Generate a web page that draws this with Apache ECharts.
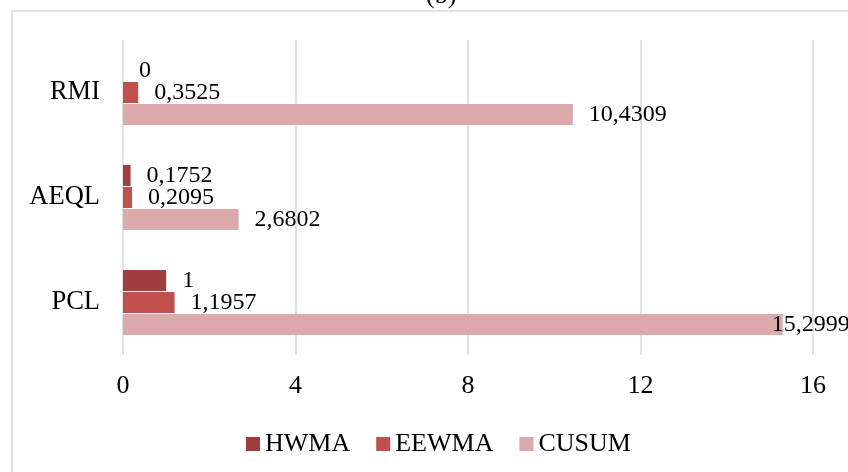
<!DOCTYPE html>
<html>
<head>
<meta charset="utf-8">
<script src="https://cdn.jsdelivr.net/npm/echarts@6/dist/echarts.min.js"></script>
<style>
  html, body { margin: 0; padding: 0; background: #fff; }
  #chart { width: 848px; height: 472px; }
</style>
</head>
<body>
<div id="chart"></div>
<script>
// Categories listed bottom-to-top along the y axis
const categories = ['PCL', 'AEQL', 'RMI'];
const seriesNames = ['HWMA', 'EEWMA', 'CUSUM'];
const hwma = [1, 0.1752, 0];
const eewma = [1.1957, 0.2095, 0.3525];
const cusum = [15.2999, 2.6802, 10.4309];
const xTicks = [0, 4, 8, 12, 16];

const colors = ['#9e3f3d', '#c0504d', '#dcaaaa'];
const FONT = "'Liberation Serif', 'Times New Roman', serif";

// Decimal comma, as in the labels
const fmt = v => String(v).replace('.', ',');

function makeSeries(name, values, color) {
  return {
    name: name,
    type: 'bar',
    barWidth: 21,
    barGap: '5%',
    itemStyle: { color: color },
    label: {
      show: true,
      position: 'right',
      distance: 16,
      color: '#000',
      fontFamily: FONT,
      fontSize: 24,
      formatter: p => fmt(p.value)
    },
    data: values.map(v => ({ value: v }))
  };
}

const series = [
  makeSeries(seriesNames[0], hwma, colors[0]),
  makeSeries(seriesNames[1], eewma, colors[1]),
  makeSeries(seriesNames[2], cusum, colors[2])
];
// The longest bar's label is pulled back so it stays inside the frame
series[2].data[0].label = { offset: [-27, 0] };

const chart = echarts.init(document.getElementById('chart'), null, { renderer: 'canvas' });
chart.setOption({
  animation: false,
  backgroundColor: '#fff',
  title: {
    text: '(b)',
    left: 421,
    top: -22,
    textStyle: { fontFamily: FONT, fontSize: 26, fontWeight: 'normal', color: '#000' }
  },
  graphic: [{
    type: 'rect',
    shape: { x: 12, y: 11, width: 900, height: 520 },
    style: { fill: 'none', stroke: '#d9d9d9', lineWidth: 1.5 },
    silent: true
  }],
  legend: {
    data: seriesNames,
    left: 241,
    top: 426,
    icon: 'rect',
    itemWidth: 14,
    itemHeight: 14,
    itemGap: 26,
    textStyle: { fontFamily: FONT, fontSize: 26, color: '#000', lineHeight: 26 }
  },
  grid: { left: 123, right: 35, top: 40, bottom: 117, containLabel: false },
  xAxis: {
    type: 'value',
    min: xTicks[0],
    max: xTicks[xTicks.length - 1],
    interval: 4,
    axisLine: { show: false },
    axisTick: { show: false },
    splitLine: { show: true, lineStyle: { color: '#d9d9d9', width: 1.5 } },
    axisLabel: {
      margin: 18,
      color: '#000',
      fontFamily: FONT,
      fontSize: 26,
      formatter: v => fmt(v)
    }
  },
  yAxis: {
    type: 'category',
    data: categories,
    axisLine: { show: false },
    axisTick: { show: false },
    splitLine: { show: false },
    axisLabel: {
      margin: 23,
      color: '#000',
      fontFamily: FONT,
      fontSize: 26.5
    }
  },
  series: series
});
</script>
</body>
</html>
